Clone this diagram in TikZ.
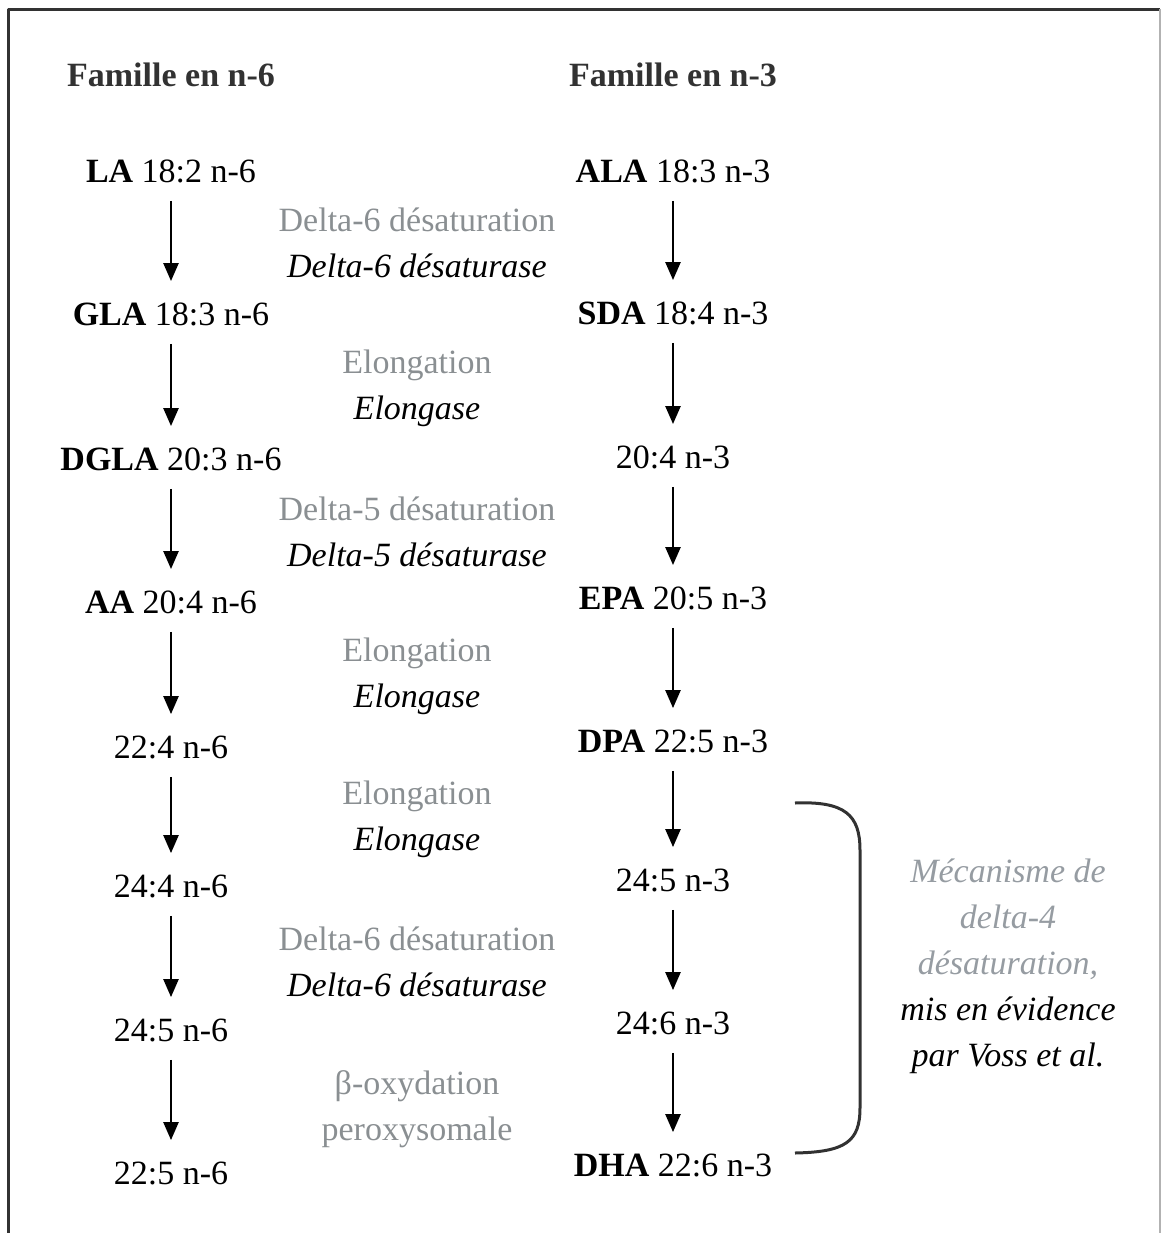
\documentclass[tikz,border=0pt]{standalone}
\usepackage{fontspec}
\setmainfont{Liberation Serif}
\usetikzlibrary{arrows.meta}
\definecolor{grisclair}{RGB}{138,143,146}
\definecolor{grisbleu}{RGB}{150,156,162}
\definecolor{grisfonce}{RGB}{50,50,50}
\begin{document}
\begin{tikzpicture}[x=0.5pt,y=-0.5pt,>={Triangle[width=7.5pt,length=9pt]}, font=\fontsize{17pt}{23pt}\selectfont, line join=round]
	\def\xg{171} \def\xd{673} \def\xm{417} % colonnes
	\tikzset{acide/.style={inner sep=0pt},
		fleche/.style={->,line width=1.2pt,shorten <=9pt,shorten >=10.5pt},
		enzyme/.style={align=center,inner sep=0pt}}
	\useasboundingbox (0,0) rectangle (1162,1233);
	
	% cadre
	\draw[line width=1.5pt,grisfonce] (8,1233)--(8,9)--(1160,9);
	\draw[line width=0.6pt,gray!60] (1160,9)--(1160,1233);
	
	\node[acide,text=grisfonce] (titreg) at (\xg,75) {\bfseries Famille en n-6};
	\node[acide,text=grisfonce] (titred) at (\xd,75) {\bfseries Famille en n-3};
	
	% famille n-6
	\node[acide] (la) at (\xg,171) {\textbf{LA} 18:2 n-6};
	\node[acide] (gla) at (\xg,314) {\textbf{GLA} 18:3 n-6};
	\node[acide] (dgla) at (\xg,459) {\textbf{DGLA} 20:3 n-6};
	\node[acide] (aa) at (\xg,602) {\textbf{AA} 20:4 n-6};
	\node[acide] (a224) at (\xg,747) {22:4 n-6};
	\node[acide] (a244) at (\xg,886) {24:4 n-6};
	\node[acide] (a245) at (\xg,1030) {24:5 n-6};
	\node[acide] (a225) at (\xg,1173) {22:5 n-6};
	
	% famille n-3
	\node[acide] (ala) at (\xd,171) {\textbf{ALA} 18:3 n-3};
	\node[acide] (sda) at (\xd,313) {\textbf{SDA} 18:4 n-3};
	\node[acide] (b204) at (\xd,457) {20:4 n-3};
	\node[acide] (epa) at (\xd,598) {\textbf{EPA} 20:5 n-3};
	\node[acide] (dpa) at (\xd,741) {\textbf{DPA} 22:5 n-3};
	\node[acide] (b245) at (\xd,880) {24:5 n-3};
	\node[acide] (b246) at (\xd,1023) {24:6 n-3};
	\node[acide] (dha) at (\xd,1165) {\textbf{DHA} 22:6 n-3};
	
	\foreach \u/\v in {la/gla,gla/dgla,dgla/aa,aa/a224,a224/a244,a244/a245,a245/a225,
		ala/sda,sda/b204,b204/epa,epa/dpa,dpa/b245,b245/b246,b246/dha}
		\draw[fleche] (\u)--(\v);
	
	% enzymes
	\node[enzyme] (e1) at (\xm,243) {\textcolor{grisclair}{Delta-6 désaturation}\\\textit{Delta-6 désaturase}};
	\node[enzyme] (e2) at (\xm,388) {\textcolor{grisclair}{Elongation}\\\textit{Elongase}};
	\node[enzyme] (e3) at (\xm,532) {\textcolor{grisclair}{Delta-5 désaturation}\\\textit{Delta-5 désaturase}};
	\node[enzyme] (e4) at (\xm,676) {\textcolor{grisclair}{Elongation}\\\textit{Elongase}};
	\node[enzyme] (e5) at (\xm,819) {\textcolor{grisclair}{Elongation}\\\textit{Elongase}};
	\node[enzyme] (e6) at (\xm,962) {\textcolor{grisclair}{Delta-6 désaturation}\\\textit{Delta-6 désaturase}};
	\node[enzyme] (e7) at (\xm,1109) {\textcolor{grisclair}{β-oxydation}\\\textcolor{grisclair}{peroxysomale}};
	
	% accolade delta-4
	\draw[line width=1.5pt,grisfonce] (795,803) .. controls (845,801) and (860,815) .. (860,850)
		-- (860,1108) .. controls (860,1142) and (845,1152) .. (795,1153);
	\node[enzyme,font=\fontsize{17pt}{23pt}\selectfont\itshape] (voss) at (1008,966)
		{\textcolor{grisbleu}{Mécanisme de}\\\textcolor{grisbleu}{delta-4}\\\textcolor{grisbleu}{désaturation,}\\mis en évidence\\par Voss et al.};
\end{tikzpicture}
\end{document}
